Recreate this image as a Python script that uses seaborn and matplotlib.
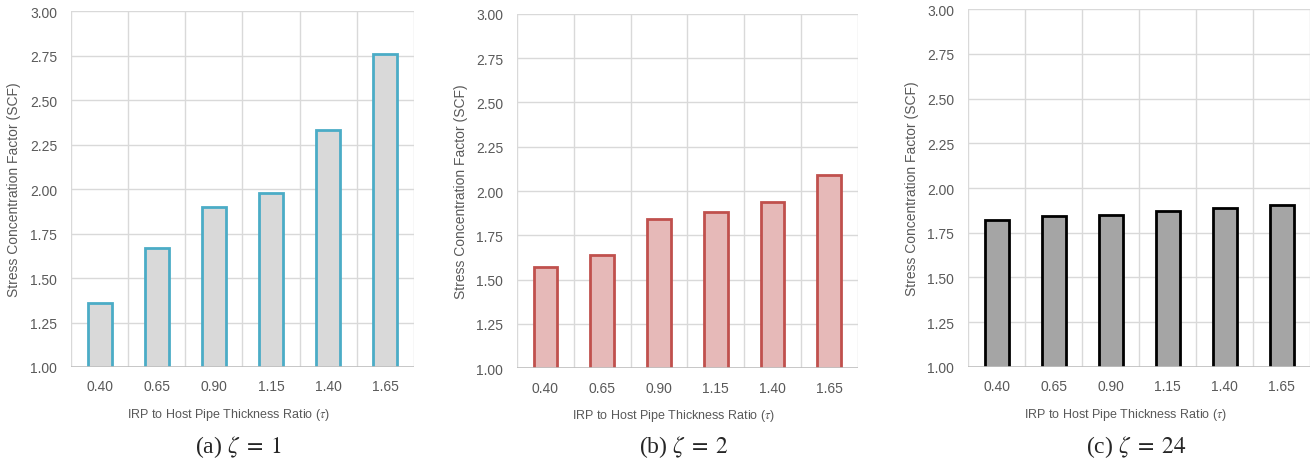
import matplotlib
matplotlib.use("Agg")
import matplotlib.pyplot as plt
import seaborn as sns
import pandas as pd

# Thickness ratios (categories) and stress concentration factors per case
ratios = ["0.40", "0.65", "0.90", "1.15", "1.40", "1.65"]
scf_zeta1 = [1.36, 1.67, 1.90, 1.98, 2.33, 2.76]
scf_zeta2 = [1.57, 1.64, 1.84, 1.88, 1.94, 2.09]
scf_zeta24 = [1.82, 1.845, 1.85, 1.87, 1.89, 1.905]

captions = [r"(a) $\zeta\;=\;1$", r"(b) $\zeta\;=\;2$", r"(c) $\zeta\;=\;24$"]
y_ticks = [1.00, 1.25, 1.50, 1.75, 2.00, 2.25, 2.50, 2.75, 3.00]

sns.set_theme(style="white")
plt.rcParams["font.family"] = ["Liberation Sans", "DejaVu Sans"]
plt.rcParams["mathtext.fontset"] = "stix"

fig = plt.figure(figsize=(13.12, 4.64), dpi=100)
fig.patch.set_facecolor("white")

panels = [
    (scf_zeta1, "#D9D9D9", "#4BACC6", [0.0541, 0.2069, 0.2614, 0.7671], 0.1818),
    (scf_zeta2, "#E6B9B8", "#C0504D", [0.3941, 0.2047, 0.2596, 0.7630], 0.5213),
    (scf_zeta24, "#A5A5A5", "#000000", [0.7380, 0.2075, 0.2605, 0.7703], 0.8660),
]

text_c = "#595959"
grid_c = "#D9D9D9"

for (vals, fill, edge, rect, cap_x), cap in zip(panels, captions):
    ax = fig.add_axes(rect)
    df = pd.DataFrame({"ratio": ratios, "scf": vals})
    sns.barplot(data=df, x="ratio", y="scf", ax=ax, color=fill,
                saturation=1, width=0.42, edgecolor=edge, linewidth=2.0,
                zorder=3)
    ax.set_ylim(1.0, 3.0)
    ax.set_xlim(-0.5, len(ratios) - 0.5)
    ax.set_yticks(y_ticks)
    ax.set_yticklabels([f"{t:.2f}" for t in y_ticks])
    # horizontal gridlines at value ticks, vertical at category boundaries
    for t in y_ticks:
        ax.axhline(t, color=grid_c, lw=1.0, zorder=0)
    for b in range(len(ratios) + 1):
        ax.axvline(b - 0.5, color=grid_c, lw=1.0, zorder=0)
    for s in ax.spines.values():
        s.set_visible(False)
    ax.axhline(1.0, color="#BFBFBF", lw=1.2, zorder=4)
    ax.tick_params(axis="both", length=0, labelsize=10, labelcolor=text_c)
    ax.tick_params(axis="x", pad=9)
    ax.tick_params(axis="y", pad=10)
    ax.set_xlabel("IRP to Host Pipe Thickness Ratio ($\\tau$)", fontsize=9,
                  color=text_c)
    ax.set_ylabel("Stress Concentration Factor (SCF)", fontsize=10,
                  color=text_c)
    ax.xaxis.set_label_coords(0.46, -0.11)
    ax.yaxis.set_label_coords(-0.145, 0.5)
    ax.grid(False)
    fig.text(cap_x, 0.036, cap, ha="center", va="center", fontsize=17,
             family="Liberation Serif")

fig.savefig("out.png", dpi=100, facecolor="white")
